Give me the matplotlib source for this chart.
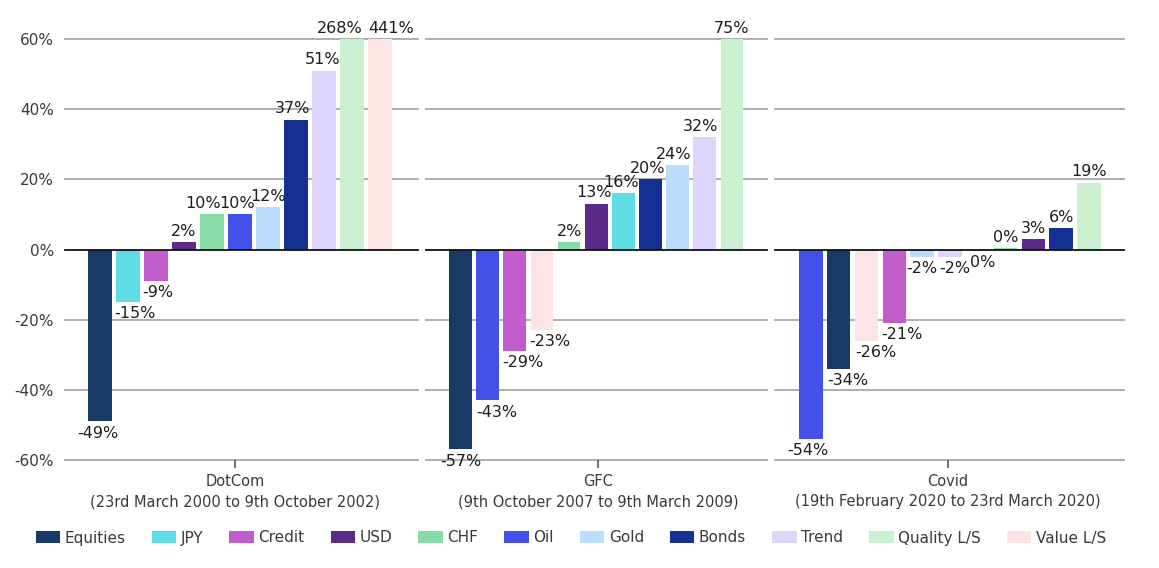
import matplotlib
matplotlib.use("Agg")
import matplotlib.pyplot as plt
from matplotlib.patches import Patch

# ---------------- data ----------------
assets = ["Equities", "JPY", "Credit", "USD", "CHF", "Oil", "Gold", "Bonds",
          "Trend", "Quality L/S", "Value L/S"]
colors = {
    "Equities": "#173a66",
    "JPY": "#5fdde6",
    "Credit": "#c05ccb",
    "USD": "#5a2b88",
    "CHF": "#88dba4",
    "Oil": "#4450ea",
    "Gold": "#b9ddfb",
    "Bonds": "#152f92",
    "Trend": "#ddd5fb",
    "Quality L/S": "#c9f1d0",
    "Value L/S": "#fde4e4",
}

episodes = ["DotCom\n(23rd March 2000 to 9th October 2002)",
            "GFC\n(9th October 2007 to 9th March 2009)",
            "Covid\n(19th February 2020 to 23rd March 2020)"]

dotcom_assets = ["Equities", "JPY", "Credit", "USD", "CHF", "Oil", "Gold",
                 "Bonds", "Trend", "Quality L/S", "Value L/S"]
dotcom_values = [-49, -15, -9, 2, 10, 10, 12, 37, 51, 268, 441]

gfc_assets = ["Equities", "Oil", "Credit", "Value L/S", "CHF", "USD", "JPY",
              "Bonds", "Gold", "Trend", "Quality L/S"]
gfc_values = [-57, -43, -29, -23, 2, 13, 16, 20, 24, 32, 75]

covid_assets = ["Oil", "Equities", "Value L/S", "Credit", "Gold", "Trend",
                "JPY", "CHF", "USD", "Bonds", "Quality L/S"]
covid_values = [-54, -34, -26, -21, -2, -2, -0.3, 0.3, 3, 6, 19]

yticks = [-60, -40, -20, 0, 20, 40, 60]

# ---------------- layout ----------------
W, H = 1159, 568
fig = plt.figure(figsize=(W / 100, H / 100), dpi=100)

top_px, bot_px = 39, 460
panels_px = [(65, 418, -1.25, 11.36, 4.82),
             (426, 767, -1.27, 11.29, 5.06),
             (775, 1124, -1.29, 11.26, 4.93)]
data = [(dotcom_assets, dotcom_values),
        (gfc_assets, gfc_values),
        (covid_assets, covid_values)]

# horizontal label nudges (pixels) per panel, to mimic label placement
nudges = [
    [-2, 7, 2, 0, -9, -3, 0, -3, -1, -12, 11],
    [0, 9, 8, 8, 0, -2, -2, -3, -4, -4, 0],
    [-3, 9, 9, 8, 0, 5, 5, 0, 0, 0, 0],
]

ymin, ymax = -60, 60
lab_fs = 11.5
txt_col = "#3a3a3a"
PX2PT = 0.72

for i, ((x0, x1, xl, xr, tickx), (names, vals)) in enumerate(zip(panels_px, data)):
    ax = fig.add_axes([x0 / W, 1 - bot_px / H, (x1 - x0) / W, (bot_px - top_px) / H])
    xs = list(range(len(vals)))
    ax.bar(xs, vals, width=0.84, color=[colors[n] for n in names], zorder=3)
    ax.set_xlim(xl, xr)
    ax.set_ylim(ymin, ymax)
    for y in yticks:
        if y == 0:
            ax.axhline(0, color="#111111", lw=1.3, zorder=4, clip_on=False)
        else:
            ax.axhline(y, color="#a8a8a8", lw=1.3, zorder=1, clip_on=False)
    for s in ax.spines.values():
        s.set_visible(False)
    # value labels
    for x, v, dx in zip(xs, vals, nudges[i]):
        txt = f"{round(v):d}%"
        if v >= 0:
            ax.annotate(txt, (x, min(v, ymax)), xytext=(dx * PX2PT, 2.5),
                        textcoords="offset points", ha="center", va="bottom",
                        fontsize=lab_fs, color="#1e1e1e", zorder=5,
                        annotation_clip=False)
        else:
            ax.annotate(txt, (x, v), xytext=(dx * PX2PT, -3),
                        textcoords="offset points", ha="center", va="top",
                        fontsize=lab_fs, color="#1e1e1e", zorder=5,
                        annotation_clip=False)
    ax.set_xticks([tickx])
    ax.set_xticklabels([episodes[i]], fontsize=10.5, color=txt_col,
                       linespacing=1.45)
    ax.tick_params(axis="x", length=6, width=1.2, color="#555555", pad=4)
    if i == 0:
        ax.set_yticks(yticks)
        ax.set_yticklabels([f"{t}%" for t in yticks], fontsize=11, color=txt_col)
        ax.tick_params(axis="y", length=0, pad=8)
    else:
        ax.set_yticks([])

handles = [Patch(facecolor=colors[a], edgecolor="none", label=a) for a in assets]
fig.legend(handles=handles, loc="center", bbox_to_anchor=(571 / W, 1 - 538 / H),
           ncol=len(assets), frameon=False, fontsize=11, handlelength=1.6,
           handleheight=0.85, handletextpad=0.3, columnspacing=1.7,
           labelcolor=txt_col, borderpad=0)

fig.savefig("out.png", dpi=100, facecolor="white")
